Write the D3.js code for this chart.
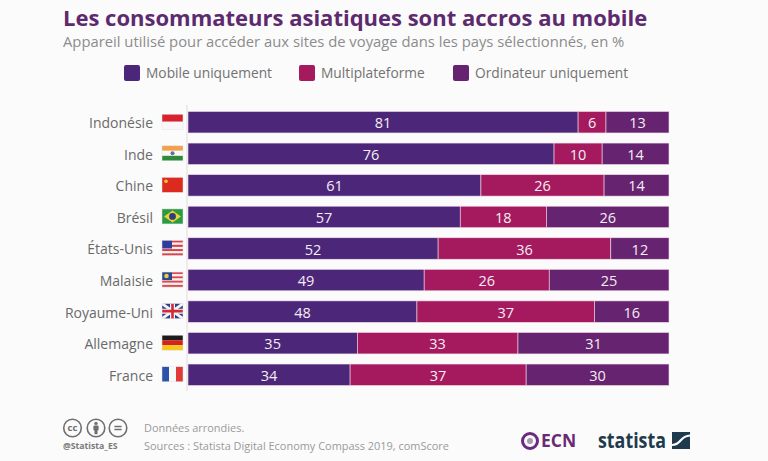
<!DOCTYPE html>
<html>
<head>
<meta charset="utf-8">
<script src="https://cdn.jsdelivr.net/npm/d3@7"></script>
<style>
  html, body { margin: 0; padding: 0; background: #fbfbfb; }
  text { font-family: "Open Sans", sans-serif; }
</style>
</head>
<body>
<div id="display"></div>
<script>
var countries = ["Indonésie", "Inde", "Chine", "Brésil", "États-Unis", "Malaisie", "Royaume-Uni", "Allemagne", "France"];
var mobile = [81.1, 76.1, 60.9, 56.6, 52.0, 49.1, 47.6, 35.2, 33.7];
var multi = [5.8, 10.0, 25.6, 17.9, 35.9, 26.0, 36.9, 33.4, 36.6];
var desktop = [13.1, 13.9, 13.5, 25.5, 12.1, 24.9, 15.5, 31.4, 29.7];
var seriesNames = ["Mobile uniquement", "Multiplateforme", "Ordinateur uniquement"];
var seriesColors = ["#4c2679", "#a5195f", "#66236f"];

var width = 768, height = 461;

var svg = d3.select("#display")
  .append("svg")
  .attr("width", width)
  .attr("height", height)
  .style("display", "block");

var rows = countries.map((c, i) => ({ name: c, 0: mobile[i], 1: multi[i], 2: desktop[i] }));
var stacked = d3.stack().keys([0, 1, 2])(rows);

var x = d3.scaleLinear().domain([0, 100]).range([188, 669]);
var y = d3.scaleBand().domain(countries).range([111.5, 385.5]).paddingInner(0.32);

// title
svg.append("text").attr("x", 63).attr("y", 25.5)
  .attr("font-size", 22).attr("font-weight", 700).attr("fill", "#5d2a6f")
  .text("Les consommateurs asiatiques sont accros au mobile");
svg.append("text").attr("x", 63).attr("y", 47)
  .attr("font-size", 14.8).attr("fill", "#8c8c8c")
  .text("Appareil utilisé pour accéder aux sites de voyage dans les pays sélectionnés, en %");

// legend
var legendX = [124, 299, 453];
var legend = svg.append("g").selectAll("g").data(seriesNames).join("g")
  .attr("transform", (d, i) => `translate(${legendX[i]},65)`);
legend.append("rect").attr("width", 16).attr("height", 16).attr("rx", 2)
  .attr("fill", (d, i) => seriesColors[i]);
legend.append("text").attr("x", 22).attr("y", 13)
  .attr("font-size", 13.75).attr("fill", "#727272").text(d => d);

// category axis
var axis = svg.append("g")
  .attr("transform", "translate(187,0)")
  .call(d3.axisLeft(y).tickSize(0).tickPadding(34));
axis.select(".domain").attr("stroke", "#dddddd").attr("d", "M0,105V391");
axis.selectAll("text").attr("font-size", 14).attr("fill", "#6a6a6a")
  .attr("dy", "0.42em")
  .style("font-family", '"Open Sans", sans-serif');

// bars
var layer = svg.append("g").selectAll("g").data(stacked).join("g")
  .attr("fill", (d, i) => seriesColors[i]);
layer.selectAll("rect")
  .data(d => d)
  .join("rect")
  .attr("x", d => x(d[0]))
  .attr("y", d => y(d.data.name))
  .attr("width", d => x(d[1]) - x(d[0]))
  .attr("height", y.bandwidth())
  .attr("stroke", "#f3dbe8")
  .attr("stroke-width", 0.6);

var labels = svg.append("g").selectAll("g").data(stacked).join("g");
labels.selectAll("text")
  .data(d => d)
  .join("text")
  .attr("x", d => x((d[0] + d[1]) / 2))
  .attr("y", d => y(d.data.name) + y.bandwidth() / 2)
  .attr("dy", "0.42em")
  .attr("text-anchor", "middle")
  .attr("font-size", 14.5)
  .attr("fill", "#f4eef4")
  .text(d => Math.round(d[1] - d[0]));

// flags
var flagW = 21, flagH = 15;
function bands(g, colors, vertical) {
  colors.forEach((c, i) => {
    if (vertical) g.append("rect").attr("x", i * flagW / colors.length).attr("width", flagW / colors.length).attr("height", flagH).attr("fill", c);
    else g.append("rect").attr("y", i * flagH / colors.length).attr("width", flagW).attr("height", flagH / colors.length).attr("fill", c);
  });
}
function stripes(g, a, b) {
  d3.range(7).forEach(i => g.append("rect").attr("y", i * flagH / 7).attr("width", flagW).attr("height", flagH / 7).attr("fill", i % 2 ? b : a));
}
var flagDraw = {
  "Indonésie": g => bands(g, ["#d8232e", "#f8f8f8"]),
  "Inde": g => {
    bands(g, ["#f2a04a", "#f8f8f8", "#2f8a3c"]);
    g.append("circle").attr("cx", flagW / 2).attr("cy", flagH / 2).attr("r", 2).attr("fill", "#6a6aa0");
  },
  "Chine": g => {
    bands(g, ["#dc2a1e"]);
    g.append("circle").attr("cx", 4).attr("cy", 4).attr("r", 1.8).attr("fill", "#f5c33c");
  },
  "Brésil": g => {
    bands(g, ["#2a9a45"]);
    g.append("path").attr("d", `M${flagW / 2},1.5L${flagW - 2},${flagH / 2}L${flagW / 2},${flagH - 1.5}L2,${flagH / 2}Z`).attr("fill", "#efd12f");
    g.append("circle").attr("cx", flagW / 2).attr("cy", flagH / 2).attr("r", 3.4).attr("fill", "#2c3d80");
  },
  "États-Unis": g => {
    stripes(g, "#d9404a", "#f6f0f0");
    g.append("rect").attr("width", 10).attr("height", 8).attr("fill", "#2c3f9c");
  },
  "Malaisie": g => {
    stripes(g, "#dc4a50", "#f6f0f0");
    g.append("rect").attr("width", 10).attr("height", 8).attr("fill", "#27478f");
    g.append("circle").attr("cx", 4.5).attr("cy", 4).attr("r", 2.3).attr("fill", "#e8c94a");
  },
  "Royaume-Uni": g => {
    bands(g, ["#2b3f8c"]);
    g.append("path").attr("d", `M0,0L${flagW},${flagH}M${flagW},0L0,${flagH}`).attr("stroke", "#f4f4f4").attr("stroke-width", 3);
    g.append("path").attr("d", `M${flagW / 2},0V${flagH}M0,${flagH / 2}H${flagW}`).attr("stroke", "#f4f4f4").attr("stroke-width", 5);
    g.append("path").attr("d", `M${flagW / 2},0V${flagH}M0,${flagH / 2}H${flagW}`).attr("stroke", "#d22a36").attr("stroke-width", 2.6);
  },
  "Allemagne": g => bands(g, ["#1c1c1c", "#d2231f", "#f6c61c"]),
  "France": g => bands(g, ["#2a52a8", "#f8f8f8", "#e03a36"], true)
};
countries.forEach(c => {
  var g = svg.append("g").attr("transform", `translate(162,${y(c) + y.bandwidth() / 2 - flagH / 2 - 0.5})`);
  flagDraw[c](g);
  g.append("rect").attr("width", flagW).attr("height", flagH).attr("fill", "none").attr("stroke", "#e2e2e2").attr("stroke-width", 0.5);
});

// licence icons
var iconColor = "#6f6f6f";
var cc = svg.append("g").attr("transform", "translate(72.5,428)");
var person = svg.append("g").attr("transform", "translate(96,428)");
var nd = svg.append("g").attr("transform", "translate(118,428)");
[cc, person, nd].forEach(g => g.append("circle").attr("r", 8.8).attr("fill", "none").attr("stroke", iconColor).attr("stroke-width", 1.6));
cc.append("text").attr("text-anchor", "middle").attr("dy", "0.34em")
  .attr("font-size", 9.5).attr("font-weight", 700).attr("fill", iconColor).text("cc");
person.append("circle").attr("cy", -4.6).attr("r", 1.7).attr("fill", iconColor);
person.append("rect").attr("x", -2.6).attr("y", -2.4).attr("width", 5.2).attr("height", 4.8).attr("rx", 1).attr("fill", iconColor);
person.append("rect").attr("x", -1.5).attr("y", 2).attr("width", 3).attr("height", 4.2).attr("fill", iconColor);
nd.append("path").attr("d", "M-3.6,-1.6H3.6M-3.6,1.6H3.6").attr("stroke", iconColor).attr("stroke-width", 1.5);
svg.append("text").attr("x", 63).attr("y", 449)
  .attr("font-size", 8.7).attr("font-weight", 700).attr("fill", "#7a7a7a").text("@Statista_ES");

// notes
svg.append("text").attr("x", 144).attr("y", 431.5)
  .attr("font-size", 10.95).attr("fill", "#9a9a9a").text("Données arrondies.");
svg.append("text").attr("x", 144).attr("y", 450)
  .attr("font-size", 10.95).attr("fill", "#9a9a9a").text("Sources : Statista Digital Economy Compass 2019, comScore");

// logos
svg.append("circle").attr("cx", 530).attr("cy", 441).attr("r", 7.5)
  .attr("fill", "none").attr("stroke", "#6b2a80").attr("stroke-width", 3);
svg.append("circle").attr("cx", 530).attr("cy", 441).attr("r", 3)
  .attr("fill", "#a89ab0");
svg.append("text").attr("x", 541).attr("y", 447)
  .attr("font-size", 17.5).attr("font-weight", 700).attr("fill", "#6b2a74").text("ECN");
svg.append("text").attr("x", 598).attr("y", 448)
  .attr("font-size", 21).attr("font-weight", 700).attr("fill", "#1f3a4d")
  .attr("textLength", 68).attr("lengthAdjust", "spacingAndGlyphs").text("statista");
svg.append("rect").attr("x", 672).attr("y", 432).attr("width", 18).attr("height", 17).attr("fill", "#1f3a4d");
svg.append("path").attr("d", "M672,445C682,445 679,436 690,435.5")
  .attr("fill", "none").attr("stroke", "#fbfbfb").attr("stroke-width", 2.2);
</script>
</body>
</html>
